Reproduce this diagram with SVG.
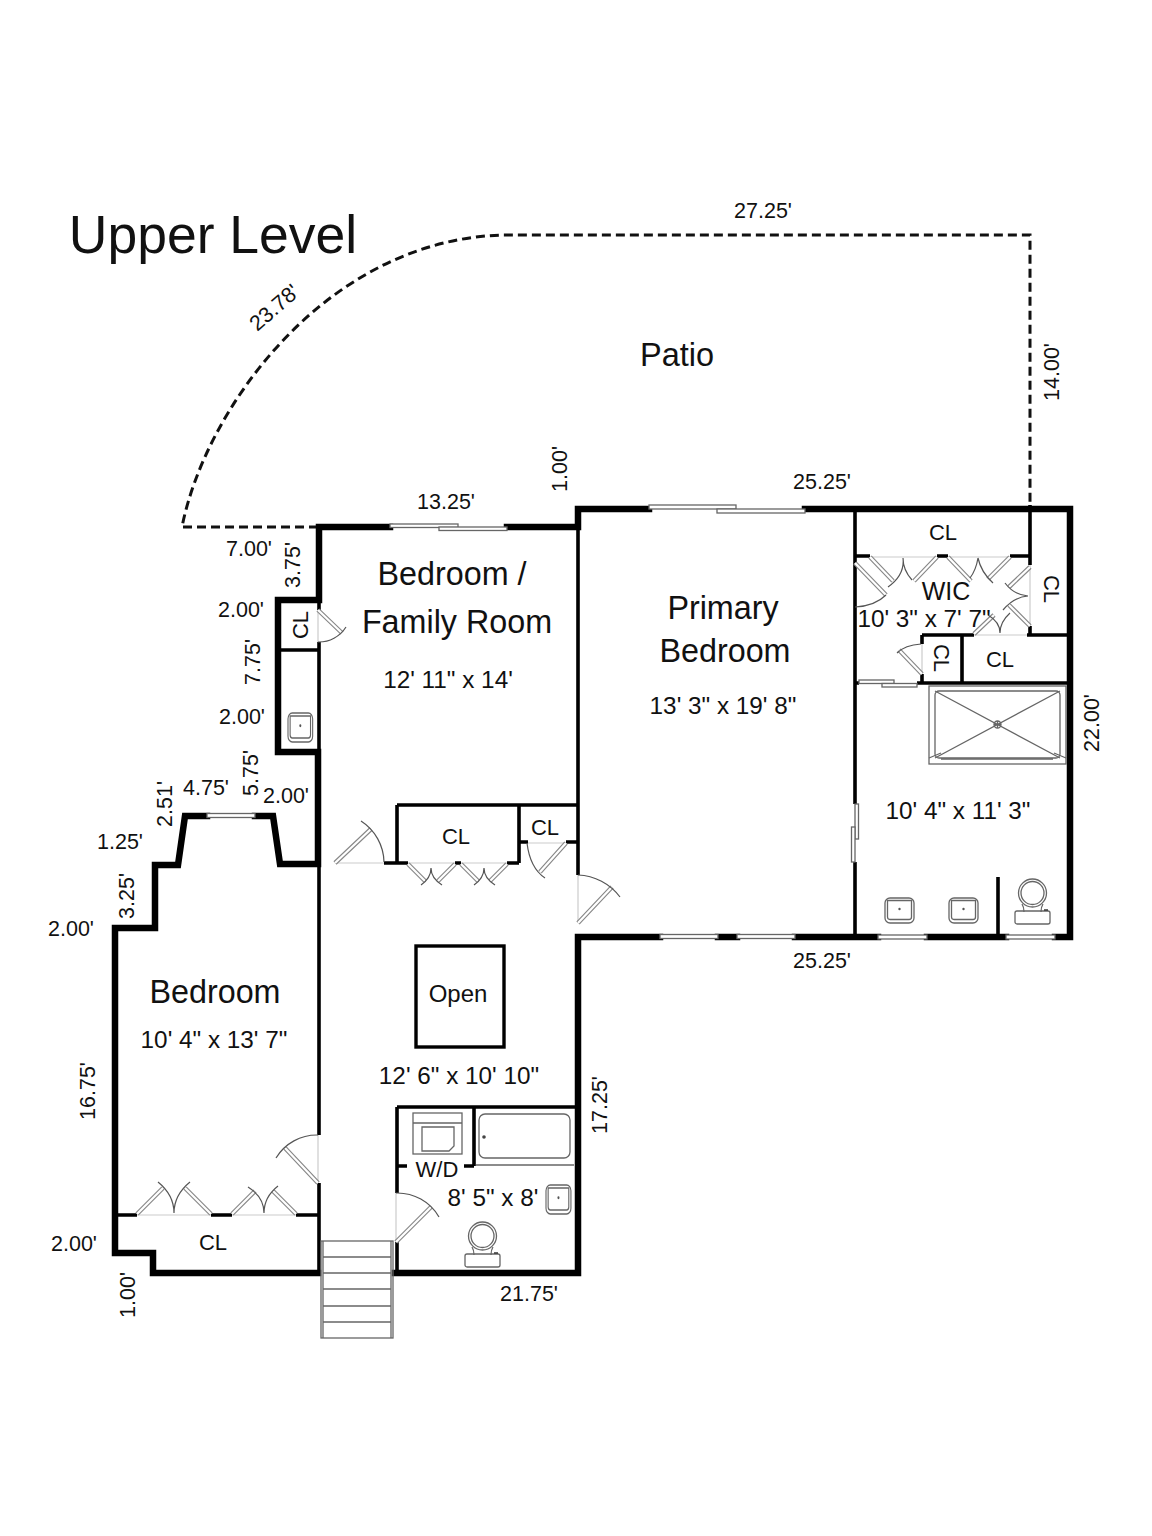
<svg xmlns="http://www.w3.org/2000/svg" width="1152" height="1536" viewBox="0 0 1152 1536">
<style>
text{font-family:"Liberation Sans",Arial,sans-serif;fill:#111;text-anchor:middle}
.d{font-size:21.5px}.r{font-size:24.3px}.n{font-size:32.300px}.c{font-size:22px}
.o{fill:none;stroke:#000;stroke-width:6.5;stroke-linejoin:miter;stroke-linecap:square}
.w{fill:none;stroke:#000;stroke-width:3.6;stroke-linecap:butt}
.g{fill:none;stroke:#666;stroke-width:1.300}
.a{fill:none;stroke:#555;stroke-width:1.200}
.t{fill:none;stroke:#ccc;stroke-width:1.200}
.lo{fill:none;stroke:#888;stroke-width:4.500}
.li{fill:none;stroke:#fff;stroke-width:2.200}
.win{fill:#fff;stroke:#666;stroke-width:1.300}
.dash{fill:none;stroke:#111;stroke-width:3;stroke-dasharray:9 5}
</style>
<defs>
<path id="leaves" d="M318 610L342 633M335 863L371 829M566 843L540 872M578 923L612 887M408 864L425 881M455 864L438 881M461 864L478 881M507 864L490 881M318 1183L285 1148M137 1214L163 1188M211 1214L185 1188M232 1214L255 1191M296 1214L273 1191M396 1242L431 1207M855 563L886 595M870 557L893 581M937 557L914 581M948 557L971 581M1010 557L988 579M1030 567L1009 587M1030 626L1009 605M974 634L994 615M922 674L899 650"/>
<g id="sink"><rect x="0" y="0" width="29" height="25" rx="5" class="g"/><path d="M2.500 2.500H26.500V19Q26.500 21.500 24 21.500H5Q2.500 21.500 2.500 19Z" class="g"/><circle cx="14.500" cy="11" r="1.200" fill="#555"/></g>
<g id="toilet"><circle cx="17.500" cy="14" r="14" class="g"/><circle cx="17.500" cy="14" r="11.500" class="g"/><path d="M7 25Q9 28 9 33M28 25Q26 28 26 33" class="g"/><rect x="0" y="32" width="35" height="13" rx="2" class="g"/><path d="M29 31H33" stroke="#333" stroke-width="1.500"/></g>
</defs>
<rect width="1152" height="1536" fill="#fff"/>

<g id="patio">
<path class="dash" d="M318 527H182C205 410 325 240 503 235H1030V509"/>
</g>

<g id="openings">
<path class="t" d="M318 610V642M335 863H384M408 863H507M528 843H566M578 875V923M318 1135V1183M137 1215H296M396 1193V1242M855 557V607M870 557H1010M1030 565V626M974 635H1027M922 644V674"/>
</g>

<g id="walls">
<path class="o" d="M319 600V527H390M507 527H578V509H649M805 509H1070V937H1055M1006 937H927M878 937H795M737 937H718M660 937H578V1273H395M318 1273H153V1253H115V928H155V865H178L185 816H207M255 816H273L280 864H318V752H278V600H319"/>
<path class="w" d="M319 600V610M319 642V1135M319 1183V1273M578 527V875M279 650H318M397 805H578M397 805V863M384 863H408M507 863H519M519 805V863M455 863H461M519 842H528M566 842H578M115 1215H137M211 1215H232M296 1215H318M397 1107H578M397 1107V1193M397 1242V1273M474 1107V1166M397 1166H407M464 1166H474M855 509V804M855 862V937M998 877V937M855 556H870M937 556H948M1010 556H1030M1030 505V565M1030 626V635M922 635H974M1027 635H1070M922 635V644M922 674V683M962 635V683M855 683H859M917 683H1070"/>
</g>

<g id="windows">
<rect class="win" x="390" y="524" width="68" height="3.500"/><rect class="win" x="439" y="527" width="68" height="3.500"/>
<rect class="win" x="649" y="505" width="87" height="4"/><rect class="win" x="717" y="509" width="88" height="4"/>
<rect class="win" x="660" y="934.500" width="58" height="4"/><rect class="win" x="737" y="934.500" width="58" height="4"/>
<rect class="win" x="878" y="935" width="49" height="4"/><rect class="win" x="1006" y="935" width="49" height="4"/>
<rect class="win" x="207" y="813.500" width="48" height="4"/>
<rect class="win" x="859" y="680" width="35" height="3.500"/><rect class="win" x="882" y="683.500" width="35" height="3.500"/>
<rect class="win" x="855" y="804" width="3.500" height="35"/><rect class="win" x="851.500" y="827" width="3.500" height="35"/>
</g>

<g id="doors">
<use href="#leaves" class="lo"/><use href="#leaves" class="li"/>
<path class="a" d="M318 642A32 32 0 0 0 346 627M361 821A50 50 0 0 1 384 862M527 843Q530 868 545 878M578 875A55 55 0 0 1 620 897M421 885Q431 878 431 868Q431 878 442 885M474 885Q484 878 484 868Q484 878 495 885M318 1135A48 48 0 0 0 276 1158M158 1182Q174 1195 174 1213Q174 1195 190 1182M248 1187Q264 1197 264 1213Q264 1197 278 1186M396 1193A48 48 0 0 1 439 1217M855 607Q875 606 886 595M888 587Q905 575 903 558Q903 570 912 580M978 558Q976 570 970 578M978 558Q981 572 993 583M1005 583Q1014 595 1028 596Q1014 597 1003 610M1000 633Q1000 622 988 615M1000 633Q1000 622 1010 613M897 653Q905 645 921 644"/>
</g>

<g id="fixtures">
<use href="#sink" transform="translate(288 713) scale(0.85 1.16)"/>
<use href="#sink" transform="translate(885 898)"/><use href="#sink" transform="translate(949 898)"/>
<use href="#sink" transform="translate(546 1185) scale(0.86 1.16)"/>
<use href="#toilet" transform="translate(1015 879)"/>
<use href="#toilet" transform="translate(465 1222)"/>
<g id="shower">
<rect class="g" x="929" y="686" width="137" height="78"/>
<rect class="g" x="935" y="691" width="125" height="67" rx="4"/>
<path class="g" d="M935 691L1060 758M1060 691L935 758M941 759H1053M929 758L941 753M1066 758L1054 753"/>
<circle class="g" cx="997.500" cy="724.500" r="3.500"/><path class="g" d="M994 724.500H1001M997.500 721V728"/>
</g>
<g id="tub">
<rect class="g" x="479" y="1114" width="91" height="44" rx="6"/>
<circle cx="484" cy="1137" r="1.800" fill="#444"/>
<path class="g" d="M476 1165H574"/>
</g>
<g id="washer">
<rect class="g" x="413" y="1113" width="49" height="41"/>
<path class="g" d="M413 1123H462M422 1127H454V1146L449 1151H422Z"/>
</g>
<g id="stairs">
<rect class="g" x="321" y="1241" width="72" height="97"/>
<path class="g" d="M323 1241V1338M391 1241V1338M323 1257H391M323 1273H391M323 1289H391M323 1306H391M323 1322H391"/>
</g>
<rect id="open" x="416" y="946" width="88" height="101" fill="none" stroke="#000" stroke-width="3.400"/>
</g>

<g id="labels">
<text x="213" y="253" style="font-size:53.500px">Upper Level</text>
<text x="677" y="366" style="font-size:32.500px">Patio</text>
<text class="n" x="452" y="585">Bedroom /</text><text class="n" x="457" y="633">Family Room</text><text class="r" x="448" y="688">12' 11" x 14'</text>
<text class="n" x="723" y="619">Primary</text><text class="n" x="725" y="662">Bedroom</text><text class="r" x="723" y="714">13' 3" x 19' 8"</text>
<text class="n" x="215" y="1003">Bedroom</text><text class="r" x="214" y="1048">10' 4" x 13' 7"</text>
<text class="r" x="459" y="1084">12' 6" x 10' 10"</text><text class="c" x="458" y="1002" style="font-size:24px">Open</text>
<text class="r" x="958" y="819">10' 4" x 11' 3"</text>
<text class="c" x="946" y="600" style="font-size:25px">WIC</text><text class="r" x="924" y="627">10' 3" x 7' 7"</text>
<text class="r" x="493" y="1206">8' 5" x 8'</text><text class="c" x="437" y="1177">W/D</text>
<text class="c" x="943" y="540">CL</text><text class="c" x="1000" y="667">CL</text><text class="c" x="456" y="844">CL</text><text class="c" x="545" y="835">CL</text><text class="c" x="213" y="1250">CL</text>
<text class="c" transform="translate(308 625) rotate(-90)">CL</text>
<text class="c" transform="translate(934 658) rotate(90)">CL</text>
<text class="c" transform="translate(1044 589) rotate(90)">CL</text>

<text class="d" x="763" y="218">27.25'</text>
<text class="d" x="446" y="509">13.25'</text>
<text class="d" x="822" y="489">25.25'</text>
<text class="d" x="822" y="968">25.25'</text>
<text class="d" x="529" y="1301">21.75'</text>
<text class="d" x="249" y="556">7.00'</text>
<text class="d" x="241" y="617">2.00'</text>
<text class="d" x="242" y="724">2.00'</text>
<text class="d" x="206" y="795">4.75'</text>
<text class="d" x="286" y="803">2.00'</text>
<text class="d" x="120" y="849">1.25'</text>
<text class="d" x="71" y="936">2.00'</text>
<text class="d" x="74" y="1251">2.00'</text>
<text class="d" transform="translate(279 313) rotate(-41)">23.78'</text>
<text class="d" transform="translate(1059 372) rotate(-90)">14.00'</text>
<text class="d" transform="translate(567 469) rotate(-90)">1.00'</text>
<text class="d" transform="translate(300 565) rotate(-90)">3.75'</text>
<text class="d" transform="translate(260 662) rotate(-90)">7.75'</text>
<text class="d" transform="translate(258 773) rotate(-90)">5.75'</text>
<text class="d" transform="translate(172 804) rotate(-90)">2.51'</text>
<text class="d" transform="translate(134 896) rotate(-90)">3.25'</text>
<text class="d" transform="translate(95 1091) rotate(-90)">16.75'</text>
<text class="d" transform="translate(135 1295) rotate(-90)">1.00'</text>
<text class="d" transform="translate(607 1105) rotate(-90)">17.25'</text>
<text class="d" transform="translate(1099 723) rotate(-90)">22.00'</text>
</g>
</svg>
